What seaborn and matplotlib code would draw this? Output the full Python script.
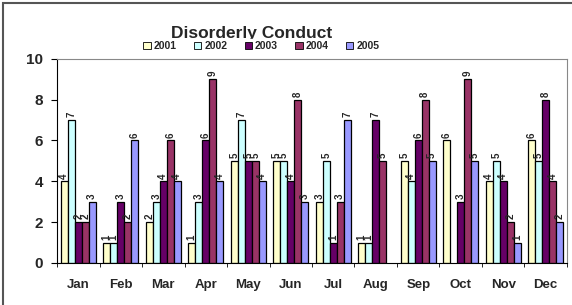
import numpy as np
import pandas as pd
import matplotlib
matplotlib.use("Agg")
import matplotlib.pyplot as plt
from matplotlib.patches import Rectangle
import seaborn as sns

months = ["Jan", "Feb", "Mar", "Apr", "May", "Jun", "Jul", "Aug", "Sep", "Oct", "Nov", "Dec"]
years = ["2001", "2002", "2003", "2004", "2005"]
v2001 = [4, 1, 2, 1, 5, 5, 3, 1, 5, 6, 4, 6]
v2002 = [7, 1, 3, 3, 7, 5, 5, 1, 4, np.nan, 5, 5]
v2003 = [2, 3, 4, 6, 5, 4, 1, 7, 6, 3, 4, 8]
v2004 = [2, 2, 6, 9, 5, 8, 3, 5, 8, 9, 2, 4]
v2005 = [3, 6, 4, 4, 4, 3, 7, np.nan, 5, 5, 1, 2]
colors = ["#FFFFCC", "#CCFFFF", "#660066", "#993366", "#9999FF"]

rows = []
for y, vals in zip(years, [v2001, v2002, v2003, v2004, v2005]):
    for m, v in zip(months, vals):
        rows.append({"month": m, "year": y, "count": v})
df = pd.DataFrame(rows)

sns.set_style("white")
plt.rcParams["font.family"] = ["Liberation Sans", "DejaVu Sans"]

fig = plt.figure(figsize=(5.72, 3.05), dpi=100)
ax = fig.add_axes([0.0997, 0.138, 0.8915, 0.669])

sns.barplot(data=df, x="month", y="count", hue="year", order=months, hue_order=years,
            palette=colors, edgecolor="black", linewidth=0.9, width=0.82,
            saturation=1, ax=ax, legend=False)

# rotated value labels above each bar
for cont in ax.containers:
    labels = ["" if np.isnan(b.get_height()) else f"{int(b.get_height())}" for b in cont]
    ax.bar_label(cont, labels=labels, rotation=90, fontsize=7, fontweight="bold", padding=2)

ax.set_ylim(0, 10)
ax.set_xlim(-0.5, 11.5)
ax.set_yticks(range(0, 11, 2))
ax.set_xlabel("")
ax.set_ylabel("")
for lbl in ax.get_xticklabels() + ax.get_yticklabels():
    lbl.set_fontweight("bold")
    lbl.set_fontsize(9.5)
ax.tick_params(axis="y", labelsize=11, left=True, length=4, width=0.8, color="black", pad=6)
ax.tick_params(axis="x", bottom=False, pad=8)
ax.set_xticks(np.arange(-0.5, 12, 1), minor=True)
ax.tick_params(axis="x", which="minor", bottom=True, length=3, width=0.6, color="black")

for side in ["top", "right"]:
    ax.spines[side].set_color("#888888")
    ax.spines[side].set_linewidth(0.8)
for side in ["left", "bottom"]:
    ax.spines[side].set_color("black")
    ax.spines[side].set_linewidth(0.8)

fig.text(0.44, 0.89, "Disorderly Conduct", ha="center", va="center",
         fontsize=12.5, fontweight="bold")

handles = [Rectangle((0, 0), 1, 1, facecolor=c, edgecolor="black", linewidth=0.6) for c in colors]
leg = fig.legend(handles, years, loc="center", bbox_to_anchor=(0.457, 0.848), ncol=5,
                 frameon=True, fontsize=7.5, handlelength=0.7, handleheight=0.7,
                 handletextpad=0.3, columnspacing=1.65, borderpad=0.2)
leg.get_frame().set_edgecolor("white")
leg.get_frame().set_facecolor("white")
leg.get_frame().set_alpha(1)
for t in leg.get_texts():
    t.set_fontweight("bold")

fig.patches.append(Rectangle((0.005, -0.01), 1.2, 1.0, transform=fig.transFigure,
                             fill=False, edgecolor="#555555", linewidth=1.5))

fig.savefig("out.png", dpi=100)
